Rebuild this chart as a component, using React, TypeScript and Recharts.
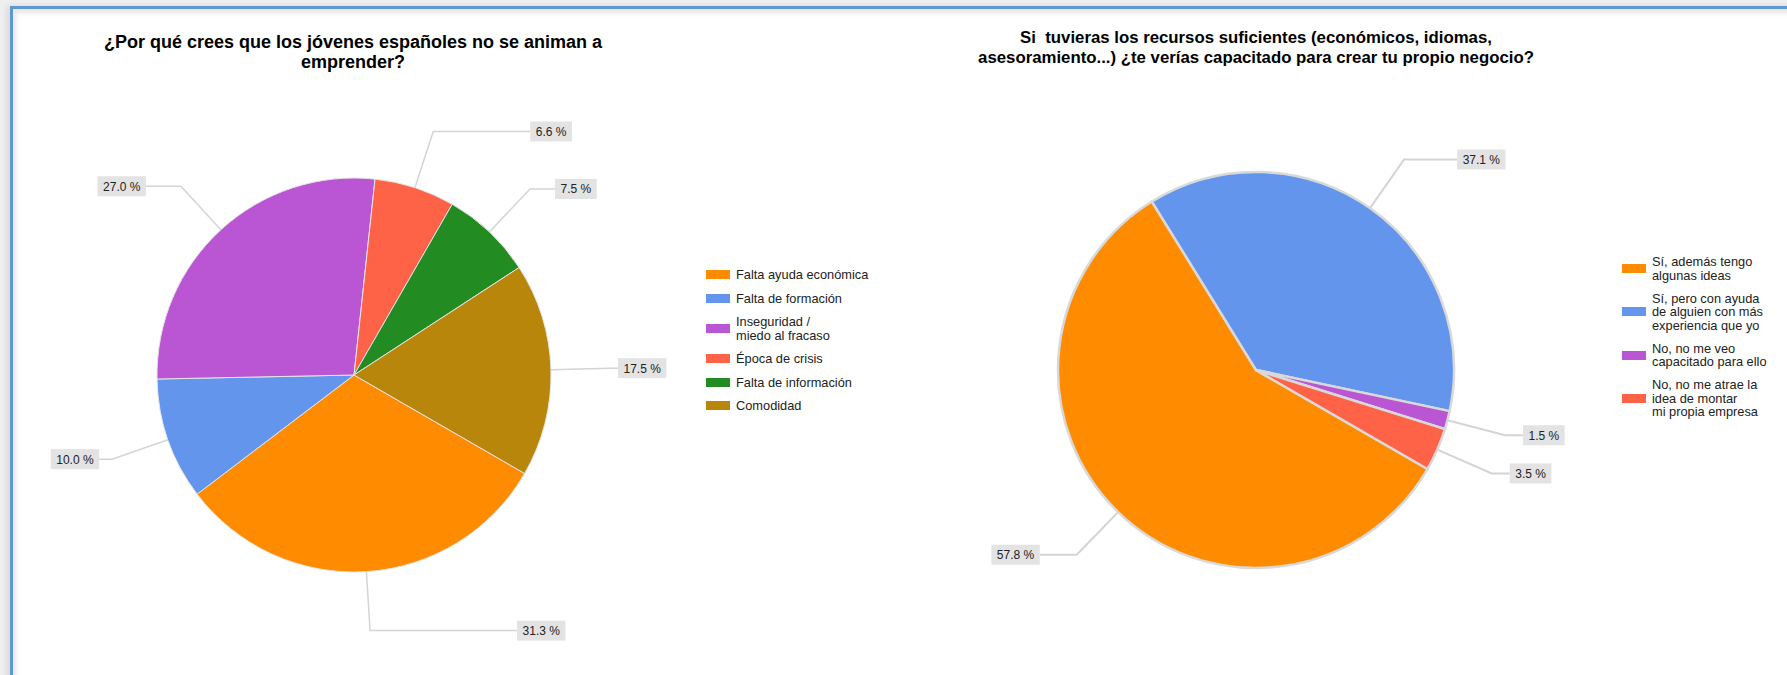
import { PieChart, Pie, Cell, Legend } from 'recharts'

const FONT = 'Arial, "Liberation Sans", sans-serif'

// Left chart: ¿Por qué crees que los jóvenes españoles no se animan a emprender?
const REASONS = [
  'Falta ayuda económica',
  'Falta de formación',
  'Inseguridad /\nmiedo al fracaso',
  'Época de crisis',
  'Falta de información',
  'Comodidad',
]
const REASON_SHARE = [31.3, 10.0, 27.0, 6.6, 7.5, 17.5]
const REASON_COLORS = ['#ff8c00', '#6495ed', '#ba55d3', '#ff6347', '#228b22', '#b8860b']

// Right chart: ¿te verías capacitado para crear tu propio negocio?
const ANSWERS = [
  'Sí, además tengo\nalgunas ideas',
  'Sí, pero con ayuda\nde alguien con más\nexperiencia que yo',
  'No, no me veo\ncapacitado para ello',
  'No, no me atrae la\nidea de montar\nmi propia empresa',
]
const ANSWER_SHARE = [57.8, 37.1, 1.5, 3.5]
const ANSWER_COLORS = ['#ff8c00', '#6495ed', '#ba55d3', '#ff6347']

// sideways run of each leader line before its label box (layout only)
const REASON_TAILS = [147, 13, 35, 97, 25, 8]
const ANSWER_TAILS = [37, 53, 18, 18]

const reasonData = REASONS.map((name, i) => ({ name, value: REASON_SHARE[i] }))
const answerData = ANSWERS.map((name, i) => ({ name, value: ANSWER_SHARE[i] }))

const RADIAN = Math.PI / 180

// rough Arial 12px widths, enough to size the grey label boxes
const textWidth = (s: string) =>
  [...s].reduce((w, ch) => w + (/\d/.test(ch) ? 6.67 : ch === '%' ? 10.67 : 3.34), 0)

const makeLabel = (tails: number[], lineWidth: number) => (props: any) => {
  const { cx, cy, midAngle, outerRadius, index, value } = props
  const cos = Math.cos(-midAngle * RADIAN)
  const sin = Math.sin(-midAngle * RADIAN)
  const sx = cx + outerRadius * cos
  const sy = cy + outerRadius * sin
  const ex = cx + outerRadius * 1.3 * cos
  const ey = cy + outerRadius * 1.3 * sin
  const dir = cos >= 0 ? 1 : -1
  const tx = ex + dir * (tails[index] ?? 20)
  const text = `${Number(value).toFixed(1)} %`
  const w = textWidth(text) + 11
  const bx = dir > 0 ? tx : tx - w
  return (
    <g key={`lbl-${index}`}>
      <polyline
        points={`${sx},${sy} ${ex},${ey} ${tx},${ey}`}
        fill="none"
        stroke="#d4d4d4"
        strokeWidth={lineWidth}
      />
      <rect x={bx} y={ey - 10} width={w} height={20} fill="#e3e3e3" />
      <text
        x={bx + w / 2}
        y={ey + 0.5}
        textAnchor="middle"
        dominantBaseline="central"
        fontSize={12}
        fontFamily={FONT}
        fill="#222"
      >
        {text}
      </text>
    </g>
  )
}

// legend keeps the data order (Recharts sorts by name otherwise)
const WrappedLegend = ({ payload, names, colors, gap }: any) => {
  const items = [...(payload || [])].sort(
    (a: any, b: any) => names.indexOf(a.value) - names.indexOf(b.value)
  )
  return (
    <div style={{ fontFamily: FONT, fontSize: 12.8, color: '#222' }}>
      {items.map((entry: any) => {
        const idx = names.indexOf(entry.value)
        return (
          <div
            key={entry.value}
            style={{ display: 'flex', alignItems: 'center', marginBottom: gap }}
          >
            <span
              style={{
                width: 24,
                height: 9,
                background: colors[idx] ?? entry.color,
                marginRight: 6,
                flexShrink: 0,
              }}
            />
            <div style={{ lineHeight: '13.5px', whiteSpace: 'pre' }}>{entry.value}</div>
          </div>
        )
      })}
    </div>
  )
}

const titleStyle: React.CSSProperties = {
  position: 'absolute',
  textAlign: 'center',
  fontFamily: FONT,
  fontWeight: 'bold',
  lineHeight: '20px',
  color: '#000',
  whiteSpace: 'pre',
}

export default function App() {
  return (
    <div
      style={{
        position: 'absolute',
        left: 0,
        top: 0,
        width: 1787,
        height: 675,
        background: '#efefef',
        overflow: 'hidden',
        fontFamily: FONT,
      }}
    >
      {/* page panel with the blue frame */}
      <div
        style={{
          position: 'absolute',
          left: 10,
          top: 6,
          right: -10,
          bottom: -10,
          background: '#fff',
          borderTop: '3px solid #5f97cf',
          borderLeft: '3px solid #5f97cf',
          boxShadow: 'inset 3px 4px 5px rgba(0,0,0,0.10), -3px 0 6px rgba(0,0,0,0.10)',
        }}
      />

      <div style={{ ...titleStyle, fontSize: 18, left: 0, top: 32, width: 706 }}>
        {'¿Por qué crees que los jóvenes españoles no se animan a\nemprender?'}
      </div>
      <div style={{ ...titleStyle, fontSize: 16.8, left: 856, top: 27.5, width: 800 }}>
        {'Si  tuvieras los recursos suficientes (económicos, idiomas,\nasesoramiento...) ¿te verías capacitado para crear tu propio negocio?'}
      </div>

      <div style={{ position: 'absolute', left: 0, top: 0 }}>
        <PieChart width={900} height={675} margin={{ top: 0, right: 0, bottom: 0, left: 0 }}>
          <Pie
            data={reasonData}
            dataKey="value"
            nameKey="name"
            cx={354}
            cy={375}
            outerRadius={197}
            startAngle={-30}
            endAngle={-390}
            stroke="#e4e4e4"
            strokeWidth={1}
            label={makeLabel(REASON_TAILS, 1.5)}
            labelLine={false}
            isAnimationActive={false}
          >
            {reasonData.map((d, i) => (
              <Cell key={d.name} fill={REASON_COLORS[i]} />
            ))}
          </Pie>
          <Legend
            layout="vertical"
            align="right"
            verticalAlign="top"
            itemSorter={(item: any) => REASONS.indexOf(item.value)}
            wrapperStyle={{ left: 706, top: 268, right: 'auto', width: 190 }}
            content={(p: any) => (
              <WrappedLegend {...p} names={REASONS} colors={REASON_COLORS} gap={10} />
            )}
          />
        </PieChart>
      </div>

      <div style={{ position: 'absolute', left: 900, top: 0 }}>
        <PieChart width={887} height={675} margin={{ top: 0, right: 0, bottom: 0, left: 0 }}>
          <Pie
            data={answerData}
            dataKey="value"
            nameKey="name"
            cx={356}
            cy={370}
            outerRadius={198}
            startAngle={-30}
            endAngle={-390}
            stroke="#d9d9d9"
            strokeWidth={2.5}
            label={makeLabel(ANSWER_TAILS, 2)}
            labelLine={false}
            isAnimationActive={false}
          >
            {answerData.map((d, i) => (
              <Cell key={d.name} fill={ANSWER_COLORS[i]} />
            ))}
          </Pie>
          <Legend
            layout="vertical"
            align="right"
            verticalAlign="top"
            itemSorter={(item: any) => ANSWERS.indexOf(item.value)}
            wrapperStyle={{ left: 722, top: 255, right: 'auto', width: 160 }}
            content={(p: any) => (
              <WrappedLegend {...p} names={ANSWERS} colors={ANSWER_COLORS} gap={9.5} />
            )}
          />
        </PieChart>
      </div>
    </div>
  )
}
